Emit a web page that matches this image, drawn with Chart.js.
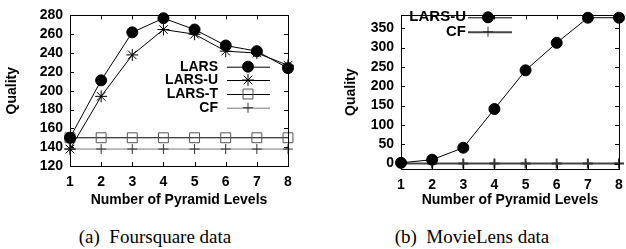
<!DOCTYPE html>
<html>
<head>
<meta charset="utf-8">
<script src="https://cdn.jsdelivr.net/npm/chart.js@4/dist/chart.umd.min.js"></script>
<style>
  body { margin: 0; background: #fff; }
  #wrap { position: relative; width: 626px; height: 249px; overflow: hidden; }
  canvas { position: absolute; top: 0; }
  .cap { position: absolute; top: 227px; width: 240px; text-align: center; line-height: 19px;
         font-family: "Liberation Serif", serif; font-size: 19px; white-space: pre; }
</style>
</head>
<body>
<div id="wrap">
  <canvas id="c1" width="313" height="215" style="left:0"></canvas>
  <canvas id="c2" width="313" height="215" style="left:313px"></canvas>
  <div class="cap" style="left:35px">(a)  Foursquare data</div>
  <div class="cap" style="left:352px">(b)  MovieLens data</div>
</div>
<script>
// x = number of pyramid levels
let levels = [1, 2, 3, 4, 5, 6, 7, 8];

// (a) Foursquare
let fsLARS  = [150, 211, 262, 277, 265, 248, 242, 224];
let fsLARSU = [138, 194, 238, 265, 260, 242, 240, 227];
let fsLARST = [150, 150, 150, 150, 150, 150, 150, 150];
let fsCF    = [138, 138, 138, 138, 138, 138, 138, 138];
let fsYTicks = [120, 140, 160, 180, 200, 220, 240, 260, 280];

// (b) MovieLens
let mlLARSU = [2, 10, 41, 141, 241, 312, 377, 377];
let mlCF    = [0, 0, 0, 0, 0, 0, 0, 0];
let mlYTicks = [0, 50, 100, 150, 200, 250, 300, 350];

Chart.defaults.font.family = '"Liberation Sans", Arial, sans-serif';
Chart.defaults.font.weight = 'bold';
Chart.defaults.font.size = 14;
Chart.defaults.color = '#000';

function pts(ys) {
  return levels.map((x, i) => ({ x: x, y: ys[i] }));
}

// gnuplot style frame: full box, ticks pointing inwards on all four sides
let boxTicks = {
  id: 'boxTicks',
  afterDatasetsDraw(chart) {
    let ctx = chart.ctx, a = chart.chartArea;
    let xs = chart.scales.x, ys = chart.scales.y;
    let len = 4;
    ctx.save();
    ctx.strokeStyle = '#000';
    ctx.lineWidth = 1;
    ctx.beginPath();
    xs.ticks.forEach(t => {
      let px = Math.round(xs.getPixelForValue(t.value)) + 0.5;
      ctx.moveTo(px, a.bottom); ctx.lineTo(px, a.bottom - len);
      ctx.moveTo(px, a.top); ctx.lineTo(px, a.top + len);
    });
    ys.ticks.forEach(t => {
      let py = Math.round(ys.getPixelForValue(t.value)) + 0.5;
      ctx.moveTo(a.left, py); ctx.lineTo(a.left + len, py);
      ctx.moveTo(a.right, py); ctx.lineTo(a.right - len, py);
    });
    ctx.stroke();
    ctx.strokeRect(Math.round(a.left) + 0.5, Math.round(a.top) + 0.5,
                   Math.round(a.right - a.left), Math.round(a.bottom - a.top));
    ctx.restore();
  }
};

// key inside the plot: label right-aligned, then a line sample with the marker
let keyBox = {
  id: 'keyBox',
  afterDraw(chart, args, opts) {
    let ctx = chart.ctx;
    ctx.save();
    ctx.font = 'bold ' + opts.size + 'px "Liberation Sans", Arial, sans-serif';
    ctx.textAlign = 'right';
    ctx.textBaseline = 'middle';
    opts.items.forEach((it, i) => {
      let ds = chart.data.datasets[it];
      let y = opts.rows[i];
      ctx.fillStyle = '#000';
      ctx.fillText(ds.label, opts.textRight, y);
      ctx.strokeStyle = ds.borderColor;
      ctx.lineWidth = ds.borderWidth;
      ctx.beginPath();
      ctx.moveTo(opts.x1, y + 0.5); ctx.lineTo(opts.x2, y + 0.5);
      ctx.stroke();
      ctx.fillStyle = ds.pointBackgroundColor;
      ctx.strokeStyle = ds.pointBorderColor;
      ctx.lineWidth = 1;
      Chart.helpers.drawPoint(ctx, {
        pointStyle: ds.pointStyle, radius: ds.pointRadius, rotation: 0, borderWidth: 1
      }, opts.mark, y);
    });
    ctx.restore();
  }
};

function axes(yTicks, ymin, ymax, yWidth, xHeight, yTitlePad) {
  return {
    x: {
      type: 'linear', min: 1, max: 8,
      afterBuildTicks: s => { s.ticks = levels.map(v => ({ value: v })); },
      afterFit: s => { s.height = xHeight; s.paddingLeft = 0; s.paddingRight = 0; },
      grid: { display: false, drawTicks: false },
      border: { display: false },
      ticks: { padding: 8, autoSkip: false, maxRotation: 0 },
      title: { display: true, text: 'Number of Pyramid Levels', padding: { bottom: 6 } }
    },
    y: {
      min: ymin, max: ymax,
      afterBuildTicks: s => { s.ticks = yTicks.map(v => ({ value: v })); },
      afterFit: s => { s.width = yWidth; },
      grid: { display: false, drawTicks: false },
      border: { display: false },
      ticks: { padding: 7, autoSkip: false },
      title: { display: true, text: 'Quality', padding: { top: yTitlePad } }
    }
  };
}

let common = {
  responsive: false,
  animation: false,
  devicePixelRatio: 1,
  events: []
};

new Chart(document.getElementById('c1'), {
  type: 'line',
  data: {
    datasets: [
      { label: 'LARS', data: pts(fsLARS), borderColor: '#000', borderWidth: 1,
        pointStyle: 'circle', pointRadius: 5.5, pointBackgroundColor: '#000', pointBorderColor: '#000', clip: false },
      { label: 'LARS-U', data: pts(fsLARSU), borderColor: '#000', borderWidth: 1,
        pointStyle: 'star', pointRadius: 6, pointBackgroundColor: '#000', pointBorderColor: '#000', clip: false },
      { label: 'LARS-T', data: pts(fsLARST), borderColor: '#000', borderWidth: 1,
        pointStyle: 'rect', pointRadius: 7, pointBackgroundColor: 'rgba(0,0,0,0)', pointBorderColor: '#555', clip: false },
      { label: 'CF', data: pts(fsCF), borderColor: '#777', borderWidth: 1,
        pointStyle: 'cross', pointRadius: 5, pointBackgroundColor: '#333', pointBorderColor: '#333', clip: false }
    ]
  },
  options: Object.assign({}, common, {
    layout: { padding: { top: 8, right: 25, left: 0, bottom: 0 } },
    scales: axes(fsYTicks, 120, 280, 70, 49, 4),
    plugins: {
      legend: { display: false },
      tooltip: { enabled: false },
      keyBox: { items: [0, 1, 2, 3], rows: [66.7, 80, 94, 107.7], textRight: 218, x1: 227, x2: 270, mark: 248, size: 14 }
    }
  }),
  plugins: [boxTicks, keyBox]
});

new Chart(document.getElementById('c2'), {
  type: 'line',
  data: {
    datasets: [
      { label: 'LARS-U', data: pts(mlLARSU), borderColor: '#000', borderWidth: 1,
        pointStyle: 'circle', pointRadius: 5.5, pointBackgroundColor: '#000', pointBorderColor: '#000', clip: false },
      { label: 'CF', data: pts(mlCF), borderColor: '#444', borderWidth: 2,
        pointStyle: 'cross', pointRadius: 5, pointBackgroundColor: '#333', pointBorderColor: '#333', clip: false }
    ]
  },
  options: Object.assign({}, common, {
    layout: { padding: { top: 7, right: 5, left: 0, bottom: 0 } },
    scales: axes(mlYTicks, -14, 383, 88, 46, 30),
    plugins: {
      legend: { display: false },
      tooltip: { enabled: false },
      keyBox: { items: [0, 1], rows: [17.3, 31.7], textRight: 153, x1: 155, x2: 199, mark: 175, size: 15 }
    }
  }),
  plugins: [boxTicks, keyBox]
});
</script>
</body>
</html>
